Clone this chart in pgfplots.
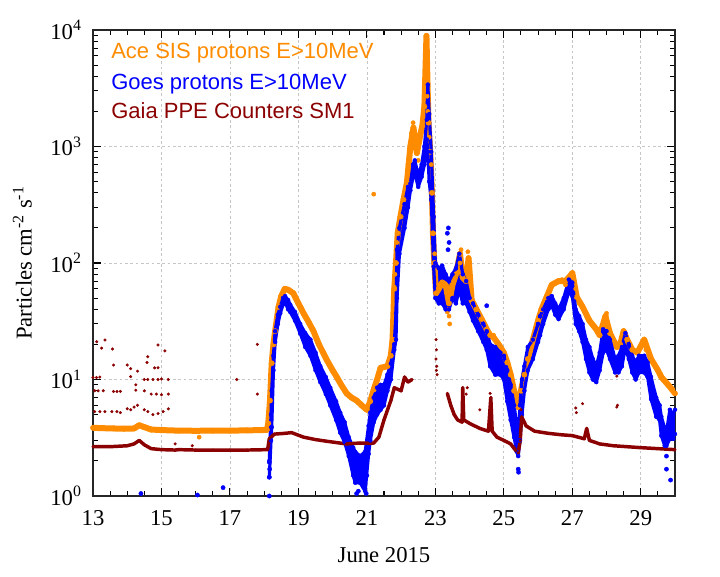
\documentclass[border=0pt]{standalone}
\usepackage{pgfplots}
\pgfplotsset{compat=1.18}
\usepgfplotslibrary{fillbetween}
\usepackage{fontspec}
\setmainfont{Liberation Serif}
\newfontfamily\legendfont{Liberation Sans}
\definecolor{aceorange}{RGB}{255,140,0}
\definecolor{goesblue}{RGB}{0,0,255}
\definecolor{gaiared}{RGB}{139,0,0}
\newcommand\bigfont{\fontsize{17}{20}\selectfont}

% Ace SIS protons E>10MeV (centre of the band)
\pgfplotstableread{
x y
13.0 3.85
13.3 3.82
13.6 3.8
13.9 3.78
14.2 3.8
14.35 4.05
14.5 3.9
14.7 3.72
15.0 3.68
15.5 3.64
16.0 3.63
16.5 3.64
17.0 3.64
17.5 3.66
17.9 3.68
18.08 3.7
18.12 4.2
18.17 6.6
18.22 13.8
18.27 20
18.32 26
18.42 42
18.5 52
18.6 60
18.7 59
18.85 55
19.0 45
19.15 37
19.3 31
19.44 26
19.6 20
19.83 14.7
20.0 12
20.12 10.5
20.25 9
20.41 7.6
20.55 7
20.7 6.6
20.85 6
21.0 5.5
21.1 6.5
21.2 8.2
21.3 10
21.4 12.6
21.6 13
21.7 16
21.75 22
21.8 60
21.85 100
21.9 180
21.98 250
22.07 350
22.17 490
22.27 1000
22.36 1450
22.46 880
22.56 1250
22.62 1500
22.68 2200
22.74 8900
22.77 3500
22.8 1600
22.85 900
22.9 400
22.93 180
22.97 100
23.02 55
23.1 60
23.2 68
23.3 65
23.4 45
23.5 65
23.6 80
23.72 120
23.8 75
23.9 70
23.97 110
24.06 48
24.2 40
24.35 33
24.5 27
24.6 24
24.7 23
24.85 20
25.0 17
25.1 14
25.2 11
25.3 8
25.42 5.8
25.5 8
25.6 11
25.7 15
25.85 22
26.0 32
26.1 40
26.25 51
26.4 65
26.6 70
26.8 70
26.9 75
27.0 82
27.13 51
27.3 42
27.5 32
27.7 27
27.8 24
27.97 35
28.0 32
28.1 25
28.3 19
28.4 20
28.5 26
28.6 22
28.75 18
28.9 17
29.1 22
29.3 15
29.5 12
29.6 10.5
29.8 9
29.9 8.3
30.0 7.6
}\acedata

\pgfplotstableread{
x y
16.1 3.2
21.2 390
23.35 38
23.38 40
23.4 35
23.42 30
23.72 100
23.75 130
23.95 125
24.0 95
22.2 700
22.25 800
22.3 1300
22.35 1600
22.4 1100
22.45 1000
22.5 760
22.52 1100
22.58 1400
22.74 6000
22.75 4800
22.76 2700
22.78 2000
22.82 1200
22.88 700
21.8 62
21.82 80
21.88 150
22.95 180
22.98 120
26.7 72
26.8 65
27.05 70
27.1 60
27.2 45
27.95 30
28.0 37
28.55 25
29.05 20
29.15 18
24.7 24
}\acescatter

% Goes protons E>10MeV: upper and lower edge of the band
\pgfplotstableread{
x hi lo
18.15 2.0 1.45
18.2 5 3
18.22 8 3.9
18.27 16 12
18.32 26 21
18.4 36 30
18.47 42 37
18.55 50 44
18.61 52 46
18.7 48 40
18.76 44 38
18.9 38 32
19.05 30 25
19.2 25 19
19.35 22 16
19.5 17 12
19.64 13 9.5
19.8 10.5 7.5
19.93 8.5 6
20.1 6.5 4.5
20.22 5.2 3.5
20.35 4.3 2.9
20.47 3.2 2.2
20.6 2.6 1.5
20.66 2.4 1.3
20.8 2.2 1.3
20.95 2.4 1.1
21.05 4 2.3
21.1 5.2 3.0
21.2 7 4.3
21.3 8.5 5.0
21.4 9 5.5
21.5 9 6
21.6 11 8
21.7 13.7 10
21.8 20 18
21.85 37 22
21.88 130 50
21.95 200 120
22.1 320 200
22.2 450 300
22.27 480 420
22.35 700 550
22.4 760 590
22.5 560 450
22.6 700 550
22.68 1000 700
22.75 1700 1150
22.78 3400 900
22.82 1900 500
22.88 900 350
22.95 250 93
23.0 100 50
23.1 90 45
23.2 95 45
23.3 80 40
23.4 70 40
23.5 80 50
23.6 90 45
23.7 120 60
23.8 80 45
23.9 70 45
24.0 50 38
24.1 45 32
24.25 36 26
24.4 30 21
24.5 26 18
24.6 20 13
24.75 19 11
24.9 17 11
25.0 16 10
25.1 12 6.5
25.2 9 4.5
25.3 6 3.2
25.38 4 2.4
25.42 3 2.2
25.47 6 3.0
25.53 10 5
25.6 13 8
25.7 19 12
25.85 22 15
26.0 30 21
26.06 35 24
26.15 40 30
26.3 50 40
26.4 52 43
26.5 45 36
26.6 40 33
26.75 50 40
26.9 72 57
27.0 68 52
27.1 40 30
27.2 35 26
27.3 30 21
27.4 22 15
27.5 19 11.5
27.6 15 10
27.7 13 9.5
27.8 17 12
27.9 27 17
28.0 26 18
28.1 22 15
28.25 15 11.5
28.35 16 11.5
28.45 19 13
28.55 25 19
28.65 20 15
28.75 16 11.5
28.85 14 10
28.95 16 11.5
29.1 16 11.5
29.2 14 10.5
29.3 10.5 6.8
29.45 7 4.8
29.55 6 4.5
29.6 4.8 3.3
29.7 3.8 2.7
29.75 3.5 2.7
29.85 5.5 3.1
29.95 5 3.1
30.0 5.5 3.4
}\goesband

\pgfplotstableread{
x y
14.4 1.05
16.05 1.02
16.8 1.18
18.15 1.0
18.15 1.45
18.15 1.95
18.16 1.7
20.7 1.05
20.75 1.1
20.9 1.2
20.98 1.05
21.0 1.5
23.35 180
23.37 130
23.38 200
23.4 150
24.5 43
25.42 1.7
25.43 1.6
29.75 2.2
29.75 1.7
29.87 1.37
}\goesscatter

% Gaia PPE counters SM1
\pgfplotstableread{
x y
13.0 2.65
13.5 2.65
14.0 2.7
14.2 2.8
14.35 3.0
14.5 2.75
14.7 2.55
15.0 2.5
15.4 2.48
15.5 2.5
16.0 2.48
16.5 2.48
17.0 2.48
17.5 2.48
18.1 2.5
18.15 3.1
18.3 3.4
18.6 3.45
18.8 3.5
19.15 3.2
19.5 3.05
19.83 2.95
20.4 2.8
20.8 2.85
21.2 2.85
21.35 3.2
21.5 4.5
21.7 6.6
21.8 8.5
22.0 8.0
22.1 10.5
22.2 9.5
22.32 10
}\gaiaone

\pgfplotstableread{
x y
23.35 7.6
23.45 6.0
23.55 5.0
23.65 4.5
23.78 4.3
23.8 8.5
23.83 4.5
24.0 4.2
24.3 3.8
24.55 3.6
24.62 7.0
24.66 3.6
24.8 3.2
25.0 3.0
25.2 2.8
25.35 2.45
25.42 2.35
25.48 3.0
25.52 4.8
25.65 4.0
25.9 3.6
26.3 3.45
26.7 3.35
27.0 3.3
27.35 3.1
27.42 3.8
27.5 3.0
27.8 2.8
28.2 2.7
28.6 2.65
29.0 2.6
29.5 2.55
30.0 2.5
}\gaiatwo

\pgfplotstableread{
x y
13.11 21.1
13.35 21.8
13.25 18.6
13.57 18.3
13.0 10.4
13.1 10.4
13.2 10.5
13.05 8.0
13.15 8.0
13.3 8.0
13.6 7.9
13.7 7.9
13.8 7.9
13.05 5.3
13.2 5.3
13.35 5.3
13.55 5.3
13.7 5.3
13.8 5.2
13.6 13.3
14.0 13.3
14.1 12.4
14.1 10.6
14.3 11.8
14.25 9.0
14.25 8.1
14.0 5.6
14.1 5.5
14.2 5.8
14.3 6.0
14.6 15.7
14.58 14.0
14.5 10.0
14.6 10.0
14.75 10.0
14.9 19.8
15.1 17.6
14.8 12.6
14.9 12.6
14.9 10.0
15.0 10.1
15.2 10.0
14.5 8.0
14.7 7.5
14.85 7.5
15.0 7.4
15.2 7.5
14.5 5.5
14.6 5.3
14.75 5.0
14.9 5.1
15.05 5.3
15.2 5.6
17.2 10.0
17.8 20.0
17.8 7.5
15.4 2.8
15.9 2.7
23.02 22
23.03 18
23.02 15
23.04 13
23.03 12
23.05 11
27.1 5.7
27.12 5.2
27.3 6.2
28.3 5.8
28.32 6.0
28.3 10.7
23.93 8.5
23.9 7.5
24.6 7.6
24.62 6.5
24.3 5.5
25.5 5.5
}\gaiascatter

\begin{document}
\begin{tikzpicture}
\begin{axis}[
  scale only axis,
  width=436.5pt, height=349.5pt,
  ymode=log,
  xmin=13, xmax=30, ymin=1, ymax=10000,
  xtick={13,15,...,29},
  minor xtick={13.5,14,14.5,15.5,16,16.5,17.5,18,18.5,19.5,20,20.5,21.5,22,22.5,23.5,24,24.5,25.5,26,26.5,27.5,28,28.5,29.5},
  ytick={1,10,100,1000,10000},
  yticklabels={10\textsuperscript{0},10\textsuperscript{1},10\textsuperscript{2},10\textsuperscript{3},10\textsuperscript{4}},
  minor ytick={2,3,4,5,6,7,8,9,20,30,40,50,60,70,80,90,200,300,400,500,600,700,800,900,2000,3000,4000,5000,6000,7000,8000,9000},
  tick align=inside,
  major tick length=6pt, minor tick length=3.5pt,
  tick style={black, line width=0.8pt},
  axis line style={black!85, line width=1.4pt},
  grid=major,
  major grid style={gray!45, line width=0.5pt, dash pattern=on 2pt off 2pt},
  tick label style={font=\bigfont},
  /pgf/number format/assume math mode=true,
  xticklabel style={yshift=-7pt},
  yticklabel style={xshift=-5pt},
  xlabel={June 2015},
  ylabel={Particles cm\textsuperscript{-2} s\textsuperscript{-1}},
  every axis x label/.style={at={(axis description cs:0.5,0)}, yshift=-44pt, anchor=center, font=\bigfont},
  every axis y label/.style={at={(axis description cs:0,0.5)}, xshift=-53pt, rotate=90, anchor=center, font=\bigfont},
  every axis plot/.append style={mark options={line width=0.3pt}},
]
% Ace
\addplot[aceorange, line width=4.5pt, line join=round, mark=*, mark size=2pt] table[x=x, y=y] {\acedata};
\addplot[aceorange, only marks, mark=*, mark size=1.6pt] table[x=x, y=y] {\acescatter};
% Goes
\addplot[name path=bu, goesblue, line width=2.4pt, line join=round, mark=*, mark size=1.5pt] table[x=x, y=hi] {\goesband};
\addplot[name path=bl, goesblue, line width=2.4pt, line join=round, mark=*, mark size=1.5pt] table[x=x, y=lo] {\goesband};
\addplot[goesblue] fill between[of=bu and bl];
\addplot[goesblue, only marks, mark=*, mark size=1.6pt] table[x=x, y=y] {\goesscatter};
% Gaia
\addplot[gaiared, line width=2.6pt, line join=round, mark=*, mark size=1pt] table[x=x, y=y] {\gaiaone};
\addplot[gaiared, line width=2.6pt, line join=round, mark=*, mark size=1pt] table[x=x, y=y] {\gaiatwo};
\addplot[gaiared, only marks, mark=*, mark size=1pt] table[x=x, y=y] {\gaiascatter};

\node[anchor=base west, inner sep=0, text=aceorange, font=\legendfont\fontsize{16.5}{20}\selectfont] at (rel axis cs:0.031,0.938) {Ace SIS protons E>10MeV};
\node[anchor=base west, inner sep=0, text=goesblue, font=\legendfont\fontsize{16.5}{20}\selectfont] at (rel axis cs:0.031,0.873) {Goes protons E>10MeV};
\node[anchor=base west, inner sep=0, text=gaiared, font=\legendfont\fontsize{16.5}{20}\selectfont] at (rel axis cs:0.031,0.809) {Gaia PPE Counters SM1};
\end{axis}
\pgfresetboundingbox
\path[use as bounding box] (-69.75pt,-60pt) rectangle (470.25pt,372pt);
\end{tikzpicture}
\end{document}
